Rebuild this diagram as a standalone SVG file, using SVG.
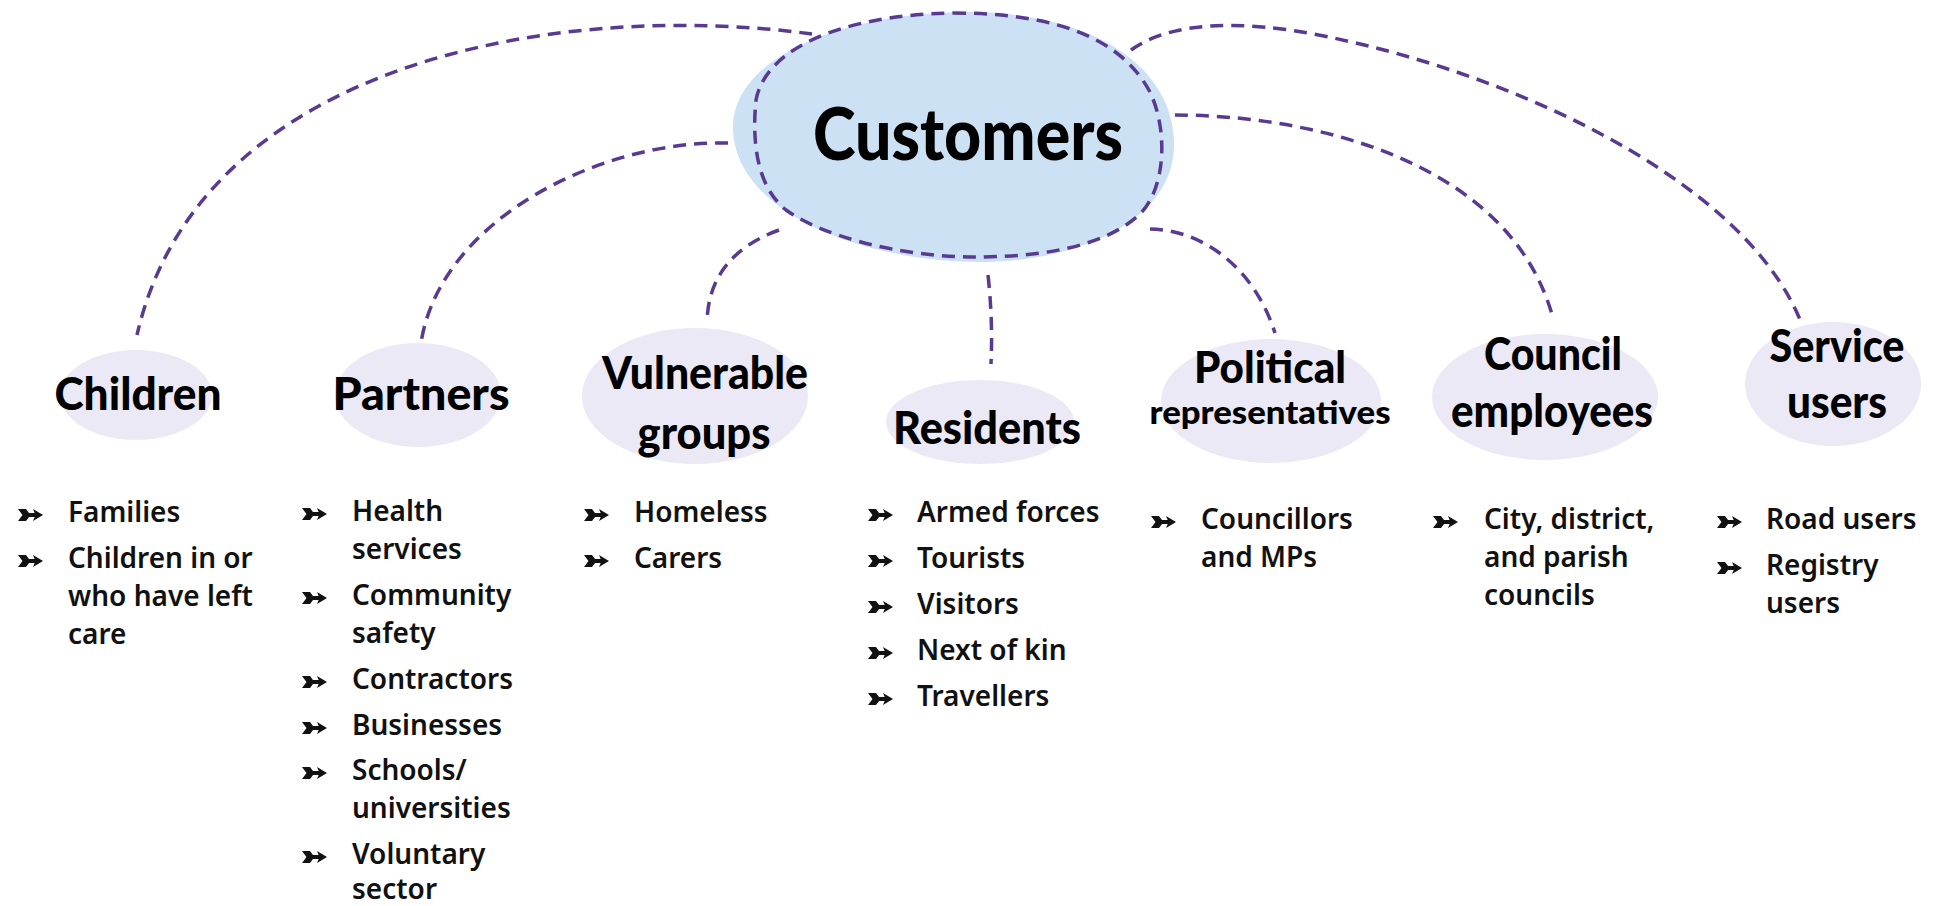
<svg xmlns="http://www.w3.org/2000/svg" width="1937" height="906" viewBox="0 0 1937 906">
  <style>
    .dash { fill: none; stroke: #583a90; stroke-width: 3.5; stroke-dasharray: 13 8; stroke-linecap: butt; }
    .bubble { fill: #ece9f6; }
    .hub { fill: #cce1f4; }
    .head { font-family: Lato, "Noto Sans", sans-serif; font-weight: 900; fill: #000; text-anchor: middle; }
    .item { font-family: "Noto Sans", "Liberation Sans", sans-serif; font-weight: 600; font-size: 28px; fill: #111; }
  </style>
  <defs>
    <!-- fletched arrow used as list bullet -->
    <symbol id="bullet" viewBox="0 -6 25 12" overflow="visible">
      <path d="M0 -6 L8 -6 L12.5 0 L8 6 L0 6 L4.5 0 Z" fill="#111"/>
      <rect x="10" y="-2" width="8" height="4" fill="#111"/>
      <path d="M15 -6 L25 0 L15 6 L17.5 0 Z" fill="#111"/>
    </symbol>
  </defs>

  <rect width="1937" height="906" fill="#fff"/>

  <!-- central hub -->
  <g id="customers">
    <path class="hub" d="M733 127 C733 55 850 12 968 12 C1085 12 1174 62 1174 145 C1174 218 1082 262 980 262 C862 262 733 212 733 127 Z"/>
    <path class="dash" d="M953 13 C1060 13 1122 40 1150 92 C1168 130 1166 188 1140 214 C1102 250 1030 257 975 257 C900 257 822 236 786 210 C756 186 752 140 756 100 C766 48 842 15 953 13 Z"/>
    <text class="head" x="968" y="160" font-size="72" textLength="310" lengthAdjust="spacingAndGlyphs">Customers</text>
  </g>

  <!-- connectors from the hub to each group -->
  <g id="connectors">
    <path class="dash" d="M812 34 C560 0 200 60 137 335"/>
    <path class="dash" d="M728 143 C600 140 440 220 421 343"/>
    <path class="dash" d="M779 230 C730 248 708 280 707 322"/>
    <path class="dash" d="M988 275 Q993 320 991 364"/>
    <path class="dash" d="M1150 229 C1205 230 1255 270 1275 333"/>
    <path class="dash" d="M1175 115 C1310 115 1510 160 1553 318"/>
    <path class="dash" d="M1131 50 Q1180 15 1290 30 C1480 60 1740 170 1801 322"/>
  </g>

  <g id="children">
    <ellipse class="bubble" cx="136" cy="395" rx="76" ry="45"/>
    <text class="head" x="138" y="410" font-size="46" textLength="167" lengthAdjust="spacingAndGlyphs">Children</text>
    <use href="#bullet" x="18" y="509" width="25" height="12"/>
    <text class="item" x="68" y="522">Families</text>
    <use href="#bullet" x="18" y="555" width="25" height="12"/>
    <text class="item" x="68" y="568">Children in or</text>
    <text class="item" x="68" y="606">who have left</text>
    <text class="item" x="68" y="644">care</text>
  </g>

  <g id="partners">
    <ellipse class="bubble" cx="418" cy="395" rx="83" ry="52"/>
    <text class="head" x="421" y="410" font-size="46" textLength="177" lengthAdjust="spacingAndGlyphs">Partners</text>
    <use href="#bullet" x="302" y="508" width="25" height="12"/>
    <text class="item" x="352" y="521">Health</text>
    <text class="item" x="352" y="559">services</text>
    <use href="#bullet" x="302" y="592" width="25" height="12"/>
    <text class="item" x="352" y="605">Community</text>
    <text class="item" x="352" y="643">safety</text>
    <use href="#bullet" x="302" y="676" width="25" height="12"/>
    <text class="item" x="352" y="689">Contractors</text>
    <use href="#bullet" x="302" y="722" width="25" height="12"/>
    <text class="item" x="352" y="735">Businesses</text>
    <use href="#bullet" x="302" y="767" width="25" height="12"/>
    <text class="item" x="352" y="780">Schools/</text>
    <text class="item" x="352" y="818">universities</text>
    <use href="#bullet" x="302" y="851" width="25" height="12"/>
    <text class="item" x="352" y="864">Voluntary</text>
    <text class="item" x="352" y="899">sector</text>
  </g>

  <g id="vulnerable-groups">
    <ellipse class="bubble" cx="695" cy="396" rx="113" ry="68"/>
    <text class="head" x="705" y="389" font-size="46" textLength="206" lengthAdjust="spacingAndGlyphs">Vulnerable</text>
    <text class="head" x="704" y="449" font-size="46" textLength="133" lengthAdjust="spacingAndGlyphs">groups</text>
    <use href="#bullet" x="584" y="509" width="25" height="12"/>
    <text class="item" x="634" y="522">Homeless</text>
    <use href="#bullet" x="584" y="555" width="25" height="12"/>
    <text class="item" x="634" y="568">Carers</text>
  </g>

  <g id="residents">
    <ellipse class="bubble" cx="980" cy="422" rx="94" ry="42"/>
    <text class="head" x="987" y="444" font-size="46" textLength="188" lengthAdjust="spacingAndGlyphs">Residents</text>
    <use href="#bullet" x="868" y="509" width="25" height="12"/>
    <text class="item" x="917" y="522">Armed forces</text>
    <use href="#bullet" x="868" y="555" width="25" height="12"/>
    <text class="item" x="917" y="568">Tourists</text>
    <use href="#bullet" x="868" y="601" width="25" height="12"/>
    <text class="item" x="917" y="614">Visitors</text>
    <use href="#bullet" x="868" y="647" width="25" height="12"/>
    <text class="item" x="917" y="660">Next of kin</text>
    <use href="#bullet" x="868" y="693" width="25" height="12"/>
    <text class="item" x="917" y="706">Travellers</text>
  </g>

  <g id="political-representatives">
    <ellipse class="bubble" cx="1271" cy="401" rx="110" ry="62"/>
    <text class="head" x="1270" y="383" font-size="44" textLength="152" lengthAdjust="spacingAndGlyphs">Political</text>
    <text class="head" x="1270" y="424" font-size="32" textLength="241" lengthAdjust="spacingAndGlyphs">representatives</text>
    <use href="#bullet" x="1151" y="516" width="25" height="12"/>
    <text class="item" x="1201" y="529">Councillors</text>
    <text class="item" x="1201" y="567">and MPs</text>
  </g>

  <g id="council-employees">
    <ellipse class="bubble" cx="1545" cy="397" rx="113" ry="63"/>
    <text class="head" x="1553" y="370" font-size="46" textLength="138" lengthAdjust="spacingAndGlyphs">Council</text>
    <text class="head" x="1552" y="427" font-size="46" textLength="202" lengthAdjust="spacingAndGlyphs">employees</text>
    <use href="#bullet" x="1433" y="516" width="25" height="12"/>
    <text class="item" x="1484" y="529">City, district,</text>
    <text class="item" x="1484" y="567">and parish</text>
    <text class="item" x="1484" y="605">councils</text>
  </g>

  <g id="service-users">
    <ellipse class="bubble" cx="1833" cy="384" rx="88" ry="62"/>
    <text class="head" x="1837" y="362" font-size="46" textLength="135" lengthAdjust="spacingAndGlyphs">Service</text>
    <text class="head" x="1837" y="418" font-size="46" textLength="100" lengthAdjust="spacingAndGlyphs">users</text>
    <use href="#bullet" x="1717" y="516" width="25" height="12"/>
    <text class="item" x="1766" y="529">Road users</text>
    <use href="#bullet" x="1717" y="562" width="25" height="12"/>
    <text class="item" x="1766" y="575">Registry</text>
    <text class="item" x="1766" y="613">users</text>
  </g>
</svg>
